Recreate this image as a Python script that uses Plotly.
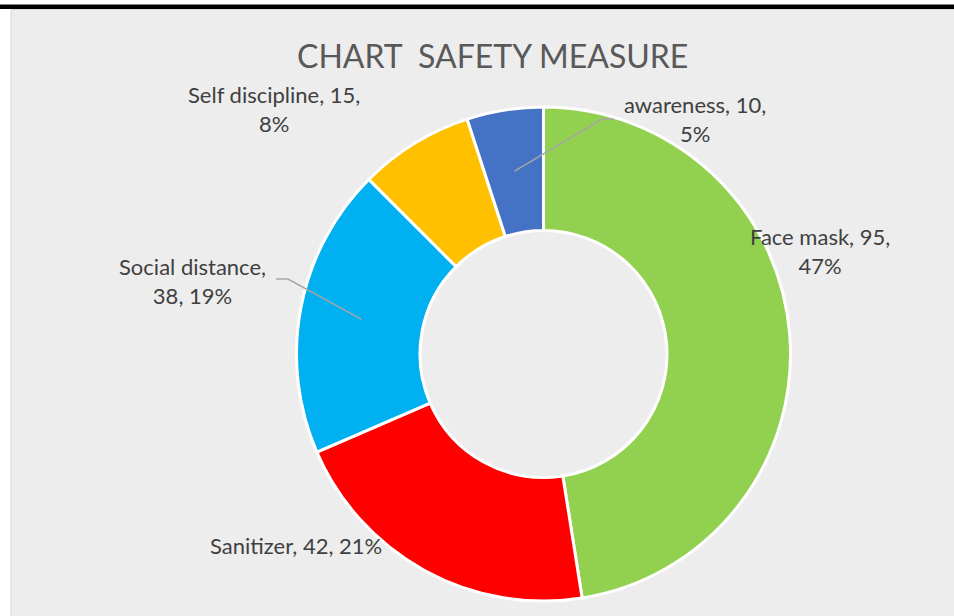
import math
import plotly.graph_objects as go

# ---- data ----
categories = ["Face mask", "Sanitizer", "Social distance", "Self discipline", "awareness"]
values = [95, 42, 38, 15, 10]
percent_labels = ["47%", "21%", "19%", "8%", "5%"]
colors = ["#92D050", "#FF0000", "#00B0F0", "#FFC000", "#4472C4"]
title_text = "CHART  SAFETY MEASURE"

W, H = 954, 616

# donut geometry (pixels)
CX, CY, R = 543.5, 354.0, 247.0
HOLE = 0.5

def px(x):
    return x / W

def py(y):
    return 1 - y / H

fig = go.Figure()
fig.add_trace(go.Pie(
    labels=categories,
    values=values,
    sort=False,
    direction="clockwise",
    rotation=0,
    hole=HOLE,
    marker=dict(colors=colors, line=dict(color="white", width=3)),
    textinfo="none",
    hoverinfo="label+value+percent",
    showlegend=False,
    domain=dict(x=[px(CX - R), px(CX + R)], y=[py(CY + R), py(CY - R)]),
))

# label texts built from data
label_lines = {
    "Face mask": "{c}, {v},<br>{p}",
    "Sanitizer": "{c}, {v}, {p}",
    "Social distance": "{c},<br>{v}, {p}",
    "Self discipline": "{c}, {v},<br>{p}",
    "awareness": "{c}, {v},<br>{p}",
}
label_pos = {
    "Face mask": (820, 251),
    "Sanitizer": (296, 545),
    "Social distance": (192, 281),
    "Self discipline": (274, 109),
    "awareness": (695, 119),
}

annotations = []
for c, v, p in zip(categories, values, percent_labels):
    x, y = label_pos[c]
    annotations.append(dict(
        x=px(x), y=py(y), xref="paper", yref="paper",
        text=label_lines[c].format(c=c, v=v, p=p),
        showarrow=False, xanchor="center", yanchor="middle",
        font=dict(family="Lato", size=22, color="#404040"),
    ))

annotations.append(dict(
    x=px(493), y=py(55), xref="paper", yref="paper", text=title_text,
    showarrow=False, xanchor="center", yanchor="middle",
    font=dict(family="Lato", size=32, color="#595959"),
))

# leader lines: start at slice mid-angle, mid-ring radius
total = sum(values)
cum = 0
mid_angle = {}
for c, v in zip(categories, values):
    mid_angle[c] = (cum + v / 2) / total * 2 * math.pi
    cum += v
r_mid = R * (1 + HOLE) / 2
leader_ends = {
    "awareness": [(602, 119), (614, 119)],
    "Social distance": [(288, 279), (276, 279)],
}

shapes = [
    # grey chart background
    dict(type="rect", xref="paper", yref="paper", layer="below",
         x0=px(11), x1=1.01, y0=-0.01, y1=py(9.5),
         fillcolor="#EDEDED", line=dict(color="#D9D9D9", width=1)),
    # black bar at top
    dict(type="rect", xref="paper", yref="paper", layer="below",
         x0=0, x1=1, y0=py(9), y1=py(4.5),
         fillcolor="black", line=dict(width=0)),
]
for c, pts in leader_ends.items():
    a = mid_angle[c]
    sx = CX + r_mid * math.sin(a)
    sy = CY - r_mid * math.cos(a)
    path = f"M {px(sx)} {py(sy)} " + " ".join(f"L {px(x)} {py(y)}" for x, y in pts)
    shapes.append(dict(type="path", xref="paper", yref="paper", layer="above",
                       path=path, line=dict(color="#A6A6A6", width=1.5)))

fig.update_layout(
    width=W, height=H,
    margin=dict(l=0, r=0, t=0, b=0),
    paper_bgcolor="white",
    plot_bgcolor="white",
    shapes=shapes,
    annotations=annotations,
)

fig.write_html(
    "out.html",
    config={"displayModeBar": False},
    post_script="document.body.style.margin='0';document.body.style.overflow='hidden';",
)
